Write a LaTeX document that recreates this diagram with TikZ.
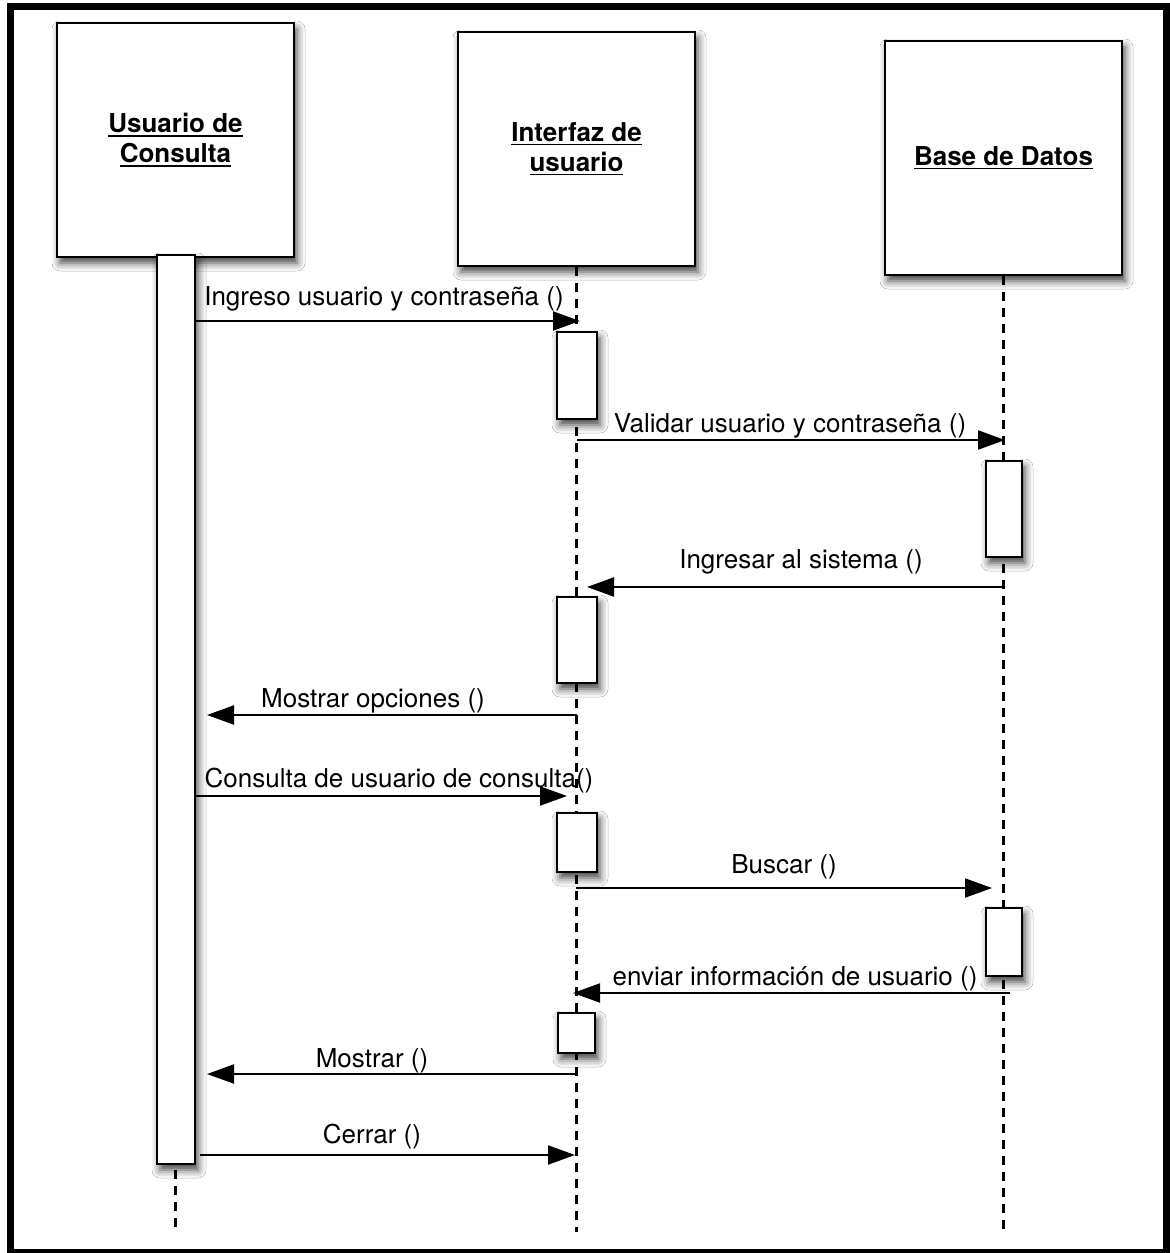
\documentclass[tikz,border=0pt]{standalone}
\usepackage{fontspec}
\setmainfont{TeX Gyre Heros}
\usetikzlibrary{arrows.meta,shadows.blur}

% underlined heading text with a heavier rule than \underline gives
\newcommand{\headul}[1]{\setbox0\hbox{#1}\rlap{\rule[-4pt]{\wd0}{1.8pt}}\box0}

\tikzset{
  softshadow/.style={blur shadow={shadow xshift=3pt, shadow yshift=-6pt,
      shadow blur radius=8pt, shadow opacity=75}},
  actor/.style={draw, line width=2.4pt, fill=white, minimum width=237pt,
      minimum height=234pt, inner sep=0pt, align=center,
      font=\bfseries\fontsize{26}{30}\selectfont, softshadow},
  activation/.style={draw, line width=2.4pt, fill=white, inner sep=0pt, softshadow},
  lifeline/.style={line width=2.2pt, dash pattern=on 9pt off 7pt},
  msg/.style={line width=2pt, -{Triangle[length=27pt,width=19pt]}},
  msglabel/.style={anchor=base, inner sep=0pt, font=\fontsize{26}{30}\selectfont},
  frame/.style={line width=7pt, draw=black}
}

\begin{document}
\begin{tikzpicture}[x=1pt, y=-1pt]
  \useasboundingbox (0,0) rectangle (1170,1253);
  \fill[white] (0,0) rectangle (1170,1253);
  \draw[frame] (10.5,6.5) rectangle (1166.5,1252.5);

  % participants
  \node[actor] (u) at (175.5,140) {\headul{Usuario de}\\\headul{Consulta}};
  \node[actor] (i) at (576.5,149) {\headul{Interfaz de}\\\headul{usuario}};
  \node[actor] (b) at (1003.5,158) {\headul{Base de Datos}};

  % lifelines
  \coordinate (uend) at (175.5,1230);
  \coordinate (iend) at (576.5,1232);
  \coordinate (bend) at (1003.5,1232);
  \draw[lifeline] (u.south) -- (uend);
  \draw[lifeline] (i.south) -- (iend);
  \draw[lifeline] (b.south) -- (bend);

  % activation bars
  \node[activation, minimum width=38pt, minimum height=909pt] (a1) at (176,709.5) {};
  \node[activation, minimum width=40pt, minimum height=87pt] (a2) at (577,375.5) {};
  \node[activation, minimum width=36pt, minimum height=96pt] (a3) at (1004,509) {};
  \node[activation, minimum width=40pt, minimum height=86pt] (a4) at (577,640) {};
  \node[activation, minimum width=40pt, minimum height=59pt] (a5) at (577,842.5) {};
  \node[activation, minimum width=36pt, minimum height=68pt] (a6) at (1004,942) {};
  \node[activation, minimum width=37pt, minimum height=40pt] (a7) at (576.5,1033) {};

  % message end points
  \coordinate (m1s) at (194,321);   \coordinate (m1e) at (580,321);
  \coordinate (m2s) at (577,440);   \coordinate (m2e) at (1005,440);
  \coordinate (m3s) at (1003,587);  \coordinate (m3e) at (587,587);
  \coordinate (m4s) at (577,715);   \coordinate (m4e) at (207,715);
  \coordinate (m5s) at (196,796);   \coordinate (m5e) at (567,796);
  \coordinate (m6s) at (576,888);   \coordinate (m6e) at (992,888);
  \coordinate (m7s) at (1010,993);  \coordinate (m7e) at (573,993);
  \coordinate (m8s) at (577,1074);  \coordinate (m8e) at (207,1074);
  \coordinate (m9s) at (200,1155);  \coordinate (m9e) at (575,1155);

  % messages
  \draw[msg] (m1s) -- (m1e);
  \draw[msg] (m2s) -- (m2e);
  \draw[msg] (m3s) -- (m3e);
  \draw[msg] (m4s) -- (m4e);
  \draw[msg] (m5s) -- (m5e);
  \draw[msg] (m6s) -- (m6e);
  \draw[msg] (m7s) -- (m7e);
  \draw[msg] (m8s) -- (m8e);
  \draw[msg] (m9s) -- (m9e);

  % message labels
  \node[msglabel] (l1) at (384,305)  {Ingreso usuario y contraseña ()};
  \node[msglabel] (l2) at (790,432)  {Validar usuario y contraseña ()};
  \node[msglabel] (l3) at (801,568)  {Ingresar al sistema ()};
  \node[msglabel] (l4) at (373,707)  {Mostrar opciones ()};
  \node[msglabel] (l5) at (399,787)  {Consulta de usuario de consulta()};
  \node[msglabel] (l6) at (784,873)  {Buscar ()};
  \node[msglabel] (l7) at (795,985)  {enviar información de usuario ()};
  \node[msglabel] (l8) at (372,1067) {Mostrar ()};
  \node[msglabel] (l9) at (372,1143) {Cerrar ()};
\end{tikzpicture}
\end{document}
